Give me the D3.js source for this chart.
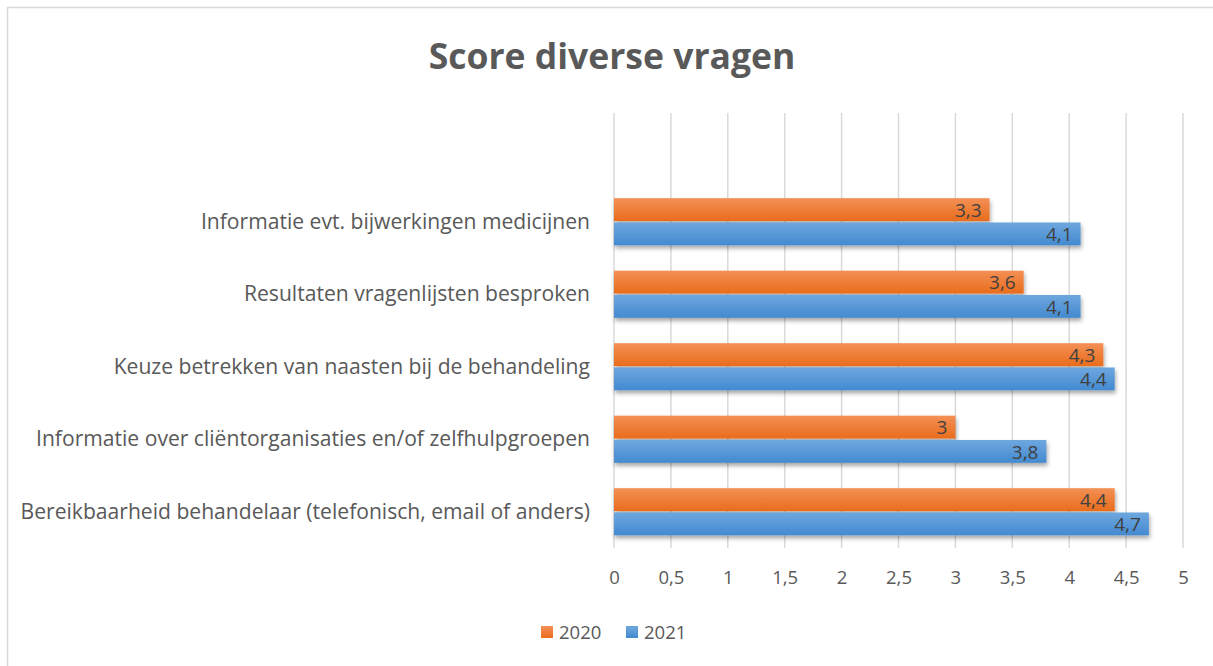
<!DOCTYPE html>
<html>
<head>
<meta charset="utf-8">
<script src="https://cdn.jsdelivr.net/npm/d3@7"></script>
<style>
  html, body { margin: 0; padding: 0; background: #fff; }
  svg { display: block; font-family: "Open Sans", "Noto Sans", sans-serif; }
</style>
</head>
<body>
<div id="chart"></div>
<script>
const categories = [
  'Informatie evt. bijwerkingen medicijnen',
  'Resultaten vragenlijsten besproken',
  'Keuze betrekken van naasten bij de behandeling',
  'Informatie over cliëntorganisaties en/of zelfhulpgroepen',
  'Bereikbaarheid behandelaar (telefonisch, email of anders)'
];
const values2020 = [3.3, 3.6, 4.3, 3, 4.4];
const values2021 = [4.1, 4.1, 4.4, 3.8, 4.7];
const seriesNames = ['2020', '2021'];
const xTicks = [0, 0.5, 1, 1.5, 2, 2.5, 3, 3.5, 4, 4.5, 5];

const W = 1213, H = 666;
const plot = { left: 614, right: 1183, top: 113, bottom: 548 };

const svg = d3.select('#chart').append('svg')
  .attr('width', W).attr('height', H);

const defs = svg.append('defs');
const grads = [
  { id: 'g2020', top: '#F39055', bottom: '#E96C1C' },
  { id: 'g2021', top: '#6EA7DF', bottom: '#438AD0' }
];
grads.forEach(g => {
  const lg = defs.append('linearGradient').attr('id', g.id)
    .attr('x1', 0).attr('y1', 0).attr('x2', 0).attr('y2', 1);
  lg.append('stop').attr('offset', '0%').attr('stop-color', g.top);
  lg.append('stop').attr('offset', '100%').attr('stop-color', g.bottom);
});
const shadow = defs.append('filter').attr('id', 'shadow')
  .attr('x', '-5%').attr('y', '-30%').attr('width', '110%').attr('height', '180%');
shadow.append('feDropShadow').attr('dx', 1).attr('dy', 3)
  .attr('stdDeviation', 2).attr('flood-color', '#000').attr('flood-opacity', 0.35);

// chart border
svg.append('rect')
  .attr('x', 7.5).attr('y', 7.5).attr('width', W + 10).attr('height', H + 10)
  .attr('fill', '#fff').attr('stroke', '#d9d9d9').attr('stroke-width', 1.5);

// title
svg.append('text')
  .attr('x', 612).attr('y', 69)
  .attr('text-anchor', 'middle')
  .style('font-size', '35.5px').style('font-weight', '700')
  .style('fill', '#595959')
  .text('Score diverse vragen');

const x = d3.scaleLinear().domain([0, 5]).range([plot.left, plot.right]);

// six slots, the top one stays empty like in the original
const step = (plot.bottom - plot.top) / 6;
const y = d3.scaleBand()
  .domain(categories)
  .range([plot.top + step, plot.bottom])
  .paddingInner(0.35).paddingOuter(0.175);

const inner = d3.scaleBand()
  .domain(seriesNames)
  .range([0, y.bandwidth()])
  .paddingInner(0.06);

// grid lines
svg.append('g')
  .selectAll('line')
  .data(xTicks)
  .join('line')
  .attr('x1', d => x(d)).attr('x2', d => x(d))
  .attr('y1', plot.top).attr('y2', plot.bottom)
  .attr('stroke', '#d9d9d9').attr('stroke-width', 1.5);

// x tick labels
svg.append('g')
  .attr('transform', `translate(0,${plot.bottom})`)
  .call(d3.axisBottom(x).tickValues(xTicks).tickSize(0).tickPadding(23)
    .tickFormat(d => String(d).replace('.', ',')))
  .call(g => g.select('.domain').remove())
  .selectAll('text')
  .style('font-family', '"Open Sans", "Noto Sans", sans-serif')
  .style('font-size', '18.5px')
  .style('fill', '#595959');

// category labels
svg.append('g')
  .attr('transform', `translate(${plot.left},0)`)
  .call(d3.axisLeft(y).tickSize(0).tickPadding(24))
  .call(g => g.select('.domain').remove())
  .selectAll('text')
  .style('font-family', '"Open Sans", "Noto Sans", sans-serif')
  .style('font-size', '21.1px')
  .style('fill', '#595959');

const rows = categories.map((c, i) => ({
  cat: c,
  items: [
    { s: '2020', v: values2020[i], fill: 'url(#g2020)' },
    { s: '2021', v: values2021[i], fill: 'url(#g2021)' }
  ]
}));

const groups = svg.append('g').selectAll('g')
  .data(rows)
  .join('g')
  .attr('transform', d => `translate(0,${y(d.cat)})`);

groups.selectAll('rect')
  .data(d => d.items)
  .join('rect')
  .attr('x', x(0))
  .attr('y', d => inner(d.s))
  .attr('width', d => x(d.v) - x(0))
  .attr('height', inner.bandwidth())
  .attr('fill', d => d.fill)
  .attr('filter', 'url(#shadow)');

groups.selectAll('text')
  .data(d => d.items)
  .join('text')
  .attr('x', d => x(d.v) - 8)
  .attr('y', d => inner(d.s) + inner.bandwidth() / 2)
  .attr('dy', '0.38em')
  .attr('text-anchor', 'end')
  .style('font-size', '19px')
  .style('fill', '#404040')
  .text(d => String(d.v).replace('.', ','));

// legend
const legend = svg.append('g').attr('transform', 'translate(541,632)');
const legendItems = [
  { name: seriesNames[0], fill: 'url(#g2020)', x: 0 },
  { name: seriesNames[1], fill: 'url(#g2021)', x: 85 }
];
legendItems.forEach(it => {
  legend.append('rect')
    .attr('x', it.x).attr('y', -6).attr('width', 12).attr('height', 12)
    .attr('fill', it.fill);
  legend.append('text')
    .attr('x', it.x + 18).attr('y', 0).attr('dy', '0.36em')
    .style('font-size', '18.5px').style('fill', '#595959')
    .text(it.name);
});
</script>
</body>
</html>
